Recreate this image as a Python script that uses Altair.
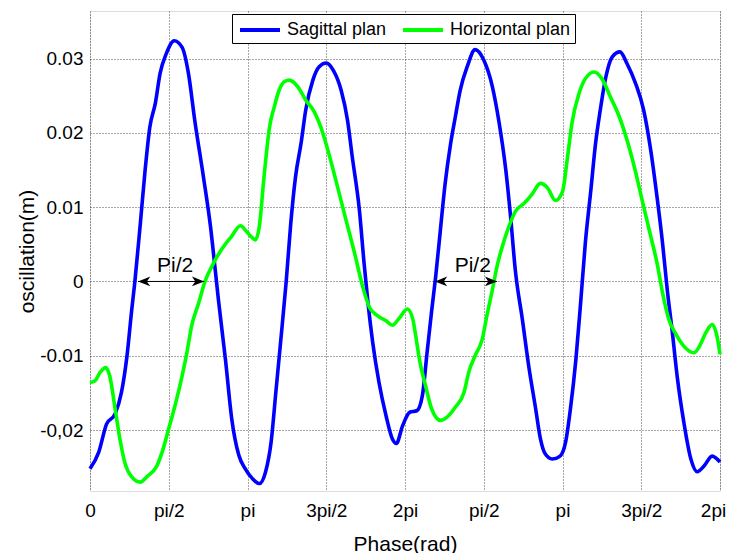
import json
import altair as alt
import pandas as pd

# ---- data (phase in units of pi/2, oscillation in m) ----
phase_sag = [0.00, 0.11, 0.21, 0.32, 0.40, 0.47, 0.53, 0.57, 0.64, 0.70, 0.76, 0.83, 0.89, 0.97,
             1.07, 1.17, 1.25, 1.33, 1.44, 1.53, 1.59, 1.63, 1.72, 1.80, 1.89, 1.97, 2.06, 2.15,
             2.23, 2.30, 2.36, 2.42, 2.49, 2.55, 2.61, 2.68, 2.74, 2.83, 2.91, 3.00, 3.09, 3.19,
             3.27, 3.33, 3.42, 3.48, 3.53, 3.59, 3.67, 3.76, 3.84, 3.89, 3.97, 4.06, 4.15, 4.22,
             4.28, 4.34, 4.39, 4.45, 4.51, 4.58, 4.64, 4.70, 4.79, 4.89, 5.00, 5.11, 5.19, 5.28,
             5.34, 5.40, 5.49, 5.57, 5.66, 5.72, 5.78, 5.87, 5.97, 6.04, 6.10, 6.17, 6.23, 6.29,
             6.36, 6.42, 6.48, 6.55, 6.63, 6.73, 6.82, 6.93, 7.03, 7.12, 7.20, 7.27, 7.33, 7.39,
             7.46, 7.54, 7.63, 7.71, 7.80, 7.90, 8.00]
osc_sag = [-0.0252, -0.0230, -0.0192, -0.0178, -0.0149, -0.0100, -0.0038, 0.0000, 0.0079, 0.0150,
           0.0208, 0.0240, 0.0280, 0.0307, 0.0324, 0.0315, 0.0280, 0.0217, 0.0141, 0.0074, 0.0016,
           -0.0024, -0.0105, -0.0185, -0.0234, -0.0252, -0.0265, -0.0272, -0.0256, -0.0216, -0.0149,
           -0.0082, -0.0002, 0.0079, 0.0141, 0.0186, 0.0231, 0.0271, 0.0289, 0.0294, 0.0284, 0.0257,
           0.0217, 0.0168, 0.0097, 0.0025, -0.0029, -0.0082, -0.0136, -0.0181, -0.0212, -0.0218,
           -0.0194, -0.0176, -0.0174, -0.0154, -0.0096, -0.0038, 0.0007, 0.0070, 0.0132, 0.0186,
           0.0222, 0.0257, 0.0289, 0.0312, 0.0298, 0.0262, 0.0217, 0.0150, 0.0088, 0.0016, -0.0051,
           -0.0113, -0.0172, -0.0212, -0.0232, -0.0239, -0.0235, -0.0216, -0.0172, -0.0105, -0.0029,
           0.0052, 0.0123, 0.0186, 0.0231, 0.0275, 0.0302, 0.0309, 0.0293, 0.0266, 0.0231, 0.0177,
           0.0114, 0.0052, -0.0011, -0.0064, -0.0131, -0.0189, -0.0239, -0.0256, -0.0248, -0.0235,
           -0.0243]

phase_hor = [0.00, 0.06, 0.13, 0.20, 0.25, 0.32, 0.38, 0.44, 0.53, 0.64, 0.72, 0.85, 0.93, 1.00,
             1.08, 1.17, 1.23, 1.29, 1.38, 1.46, 1.57, 1.67, 1.80, 1.91, 1.99, 2.04, 2.10, 2.15,
             2.21, 2.28, 2.34, 2.40, 2.47, 2.53, 2.64, 2.74, 2.85, 2.93, 3.02, 3.12, 3.25, 3.36,
             3.46, 3.55, 3.65, 3.76, 3.84, 3.93, 4.03, 4.10, 4.13, 4.19, 4.26, 4.34, 4.45, 4.53,
             4.64, 4.75, 4.81, 4.89, 4.98, 5.04, 5.11, 5.17, 5.25, 5.32, 5.40, 5.51, 5.61, 5.72,
             5.81, 5.91, 6.00, 6.06, 6.12, 6.21, 6.29, 6.40, 6.50, 6.61, 6.72, 6.82, 6.91, 7.01,
             7.12, 7.20, 7.27, 7.35, 7.44, 7.54, 7.67, 7.73, 7.82, 7.90, 7.97, 8.00]
osc_hor = [-0.0136, -0.0134, -0.0122, -0.0116, -0.0127, -0.0172, -0.0212, -0.0243, -0.0263, -0.0270,
           -0.0263, -0.0248, -0.0225, -0.0198, -0.0167, -0.0127, -0.0096, -0.0060, -0.0029, 0.0000,
           0.0025, 0.0043, 0.0061, 0.0075, 0.0067, 0.0061, 0.0056, 0.0074, 0.0141, 0.0208, 0.0235,
           0.0257, 0.0269, 0.0271, 0.0262, 0.0244, 0.0228, 0.0208, 0.0177, 0.0137, 0.0083, 0.0038,
           -0.0006, -0.0035, -0.0046, -0.0053, -0.0059, -0.0049, -0.0037, -0.0051, -0.0069, -0.0109,
           -0.0140, -0.0172, -0.0187, -0.0183, -0.0169, -0.0149, -0.0122, -0.0100, -0.0078, -0.0046,
           -0.0011, 0.0021, 0.0052, 0.0074, 0.0094, 0.0105, 0.0117, 0.0132, 0.0126, 0.0109, 0.0121,
           0.0164, 0.0213, 0.0253, 0.0273, 0.0282, 0.0273, 0.0248, 0.0222, 0.0190, 0.0155, 0.0110,
           0.0061, 0.0025, -0.0015, -0.0051, -0.0071, -0.0087, -0.0096, -0.0089, -0.0069, -0.0058,
           -0.0078, -0.0098]

series_names = ["Sagittal plan", "Horizontal plan"]
series_colors = ["#0000ff", "#00ff00"]

x_tick_values = [0, 1, 2, 3, 4, 5, 6, 7, 8]
x_tick_labels = ["0", "pi/2", "pi", "3pi/2", "2pi", "pi/2", "pi", "3pi/2", "2pi"]
y_tick_values = [-0.02, -0.01, 0.0, 0.01, 0.02, 0.03]
y_tick_labels = ["-0,02", "-0.01", "0", "0.01", "0.02", "0.03"]
x_domain = [0, 8]
y_domain = [-0.0282, 0.0364]

arrow_start = [0.61, 4.38]
arrow_end = [1.45, 5.17]
arrow_level = [0.0, 0.0]
label_x = [1.08, 4.86]
label_y = [0.0013, 0.0013]
label_text = ["Pi/2", "Pi/2"]

# ---- tables ----
df = pd.concat([
    pd.DataFrame({"phase": phase_sag, "osc": osc_sag, "series": series_names[0]}),
    pd.DataFrame({"phase": phase_hor, "osc": osc_hor, "series": series_names[1]}),
], ignore_index=True)
arrows = pd.DataFrame({"x1": arrow_start, "x2": arrow_end, "y": arrow_level})
labels = pd.DataFrame({"x": label_x, "y": label_y, "text": label_text})

x_label_expr = json.dumps(x_tick_labels) + "[round(datum.value)]"
y_label_expr = ""
for v, t in zip(y_tick_values, y_tick_labels):
    y_label_expr += f"abs(datum.value - ({v})) < 1e-9 ? '{t}' : "
y_label_expr += "''"

FONT = "Liberation Sans"

xscale = alt.Scale(domain=x_domain, nice=False, zero=False)
yscale = alt.Scale(domain=y_domain, nice=False, zero=False)

x_axis = alt.Axis(values=x_tick_values, labelExpr=x_label_expr, title="Phase(rad)",
                  grid=True, gridDash=[1, 2], gridColor="#222222", gridWidth=1, gridOpacity=0.8,
                  ticks=False, domain=False, labelFontSize=19, labelColor="black",
                  labelPadding=10, labelFont=FONT, titleFont=FONT, titleFontSize=21,
                  titleFontWeight="normal", titleColor="black", titleY=53,
                  titleBaseline="middle", labelFlush=False, labelBound=False,
                  labelOffset={"condition": {"test": f"datum.value >= {x_domain[1]}", "value": -7},
                               "value": 0})
y_axis = alt.Axis(values=y_tick_values, labelExpr=y_label_expr, title="oscillation(m)",
                  grid=True, gridDash=[1, 2], gridColor="#222222", gridWidth=1, gridOpacity=0.8,
                  ticks=False, domain=False, labelFontSize=19, labelColor="black",
                  labelPadding=7, labelFont=FONT, titleFont=FONT, titleFontSize=21,
                  titleFontWeight="normal", titleColor="black", titleX=-63,
                  titleBaseline="middle", labelFlush=False)

lines = alt.Chart(df).mark_line(strokeWidth=3.6, interpolate="monotone").encode(
    x=alt.X("phase:Q", scale=xscale, axis=x_axis),
    y=alt.Y("osc:Q", scale=yscale, axis=y_axis),
    color=alt.Color("series:N",
                    scale=alt.Scale(domain=series_names, range=series_colors),
                    legend=alt.Legend(title=None, orient="none", legendX=142, legendY=3,
                                      direction="horizontal", symbolType="M-1,0H3",
                                      symbolSize=400, symbolStrokeWidth=4,
                                      symbolOffset=2,
                                      labelFont=FONT, labelFontSize=18, labelColor="black",
                                      labelOffset=25, columnPadding=8, padding=4,
                                      fillColor="white", strokeColor="black")),
    detail="series:N",
)

shafts = alt.Chart(arrows).mark_rule(color="black", strokeWidth=1).encode(
    x=alt.X("x1:Q", scale=xscale), x2="x2:Q", y=alt.Y("y:Q", scale=yscale))

head_left = alt.Chart(arrows).mark_point(
    shape="M0,0 L2,-0.8 L1.45,0 L2,0.8 Z", filled=True, color="black", opacity=1, size=150
).encode(x=alt.X("x1:Q", scale=xscale), y=alt.Y("y:Q", scale=yscale))

head_right = alt.Chart(arrows).mark_point(
    shape="M0,0 L-2,-0.8 L-1.45,0 L-2,0.8 Z", filled=True, color="black", opacity=1, size=150
).encode(x=alt.X("x2:Q", scale=xscale), y=alt.Y("y:Q", scale=yscale))

texts = alt.Chart(labels).mark_text(font=FONT, fontSize=21, color="black", align="center",
                                    baseline="alphabetic").encode(
    x=alt.X("x:Q", scale=xscale), y=alt.Y("y:Q", scale=yscale), text="text:N")

chart = alt.layer(lines, shafts, head_left, head_right, texts).properties(
    width=630, height=480,
    autosize=alt.AutoSizeParams(type="none"),
    padding={"left": 82, "top": 3, "right": 6, "bottom": 62},
).configure_view(stroke="black", strokeWidth=1).configure(background="white")

chart.save("out.html", embed_options={"renderer": "svg", "actions": False})
